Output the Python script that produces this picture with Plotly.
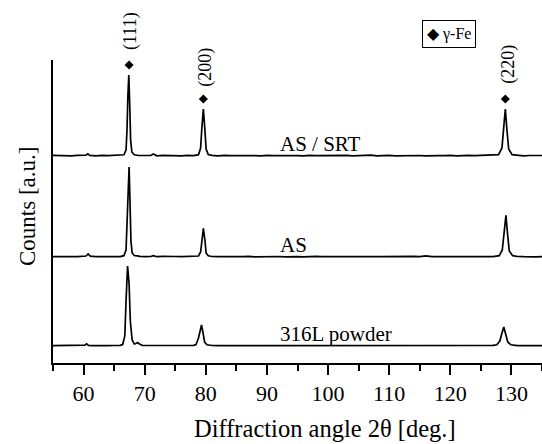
import plotly.graph_objects as go

# ---- data (intensities in a.u. above each pattern's baseline) ----
x_srt = [55, 56, 57, 58, 59, 60, 60.4, 60.7, 61.0, 62, 63, 64, 65, 66, 66.6, 66.95, 67.1, 67.25, 67.4, 67.55, 67.7, 67.9, 68.3, 69, 70, 71.0, 71.4, 71.8, 72, 73, 74, 75, 76, 77, 78, 78.8, 79.15, 79.35, 79.6, 79.85, 80.05, 80.4, 81, 82, 83, 84, 85, 86, 87, 88, 89, 90, 91, 92, 93, 94, 95, 96, 97, 98, 99, 100, 101, 102, 103, 104, 105, 106, 107, 108, 109, 110, 111, 112, 113, 114, 115, 116, 117, 118, 119, 120, 121, 122, 123, 124, 125, 126, 127, 127.9, 128.45, 128.75, 129.0, 129.25, 129.55, 130.1, 131, 132, 133, 134, 135]
y_srt = [0.6, 0.2, 0.5, 0.1, 0.6, 0.3, 0.8, 2.2, 0.6, 0.2, 0.7, 0.3, 0.5, 0.4, 1.2, 6, 25, 60, 81, 52, 16, 4, 1.2, 0.5, 0.3, 0.6, 2.0, 0.5, 0.2, 0.6, 0.3, 0.5, 0.2, 0.6, 0.4, 1.3, 8, 28, 47, 26, 7, 1.5, 0.6, 0.2, 0.7, 0.3, 0.5, 0.1, 0.6, 0.4, 0.2, 0.7, 0.3, 0.5, 0.2, 0.8, 0.4, 0.1, 0.6, 0.3, 0.5, 0.2, 0.7, 0.4, 0.6, 0.1, 0.5, 0.3, 0.8, 0.2, 0.5, 0.6, 0.2, 0.4, 0.7, 0.3, 0.5, 0.2, 0.6, 0.4, 0.3, 0.7, 0.2, 0.5, 0.6, 0.3, 0.5, 0.4, 0.7, 1.4, 8, 28, 47, 27, 7, 1.4, 0.6, 0.2, 0.5, 0.3, 0.5]

x_as = [55, 56, 57, 58, 59, 60, 60.4, 60.75, 61.1, 62, 63, 64, 65, 66, 66.6, 66.95, 67.1, 67.3, 67.45, 67.6, 67.75, 67.95, 68.3, 68.8, 69.2, 70, 71.0, 71.4, 71.8, 72, 73, 74, 75, 76, 77, 78, 78.8, 79.15, 79.4, 79.6, 79.85, 80.05, 80.4, 81, 82, 83, 84, 85, 86, 87, 88, 89, 90, 91, 92, 93, 94, 95, 96, 97, 98, 99, 100, 101, 102, 103, 104, 105, 106, 107, 108, 109, 110, 111, 112, 113, 114, 115, 116, 117, 118, 119, 120, 121, 122, 123, 124, 125, 126, 127, 128.0, 128.5, 128.8, 129.1, 129.35, 129.65, 130.2, 131, 132, 133, 134, 135]
y_as = [0.4, 0.6, 0.2, 0.5, 0.3, 0.6, 1.0, 3.0, 0.8, 0.3, 0.6, 0.2, 0.5, 0.4, 1.3, 7, 30, 72, 90, 55, 16, 4, 1.5, 1.2, 0.6, 0.3, 0.5, 1.4, 0.4, 0.3, 0.6, 0.2, 0.5, 0.3, 0.6, 0.2, 1.0, 5, 20, 28.7, 17, 4, 1.2, 0.5, 0.3, 0.6, 0.2, 0.5, 0.3, 0.7, 0.2, 0.4, 0.6, 0.3, 0.5, 0.2, 0.6, 0.4, 0.2, 0.5, 0.7, 0.3, 0.5, 0.2, 0.6, 0.4, 0.3, 0.5, 0.2, 0.7, 0.4, 0.3, 0.5, 0.6, 0.2, 0.4, 0.7, 0.3, 1.2, 0.4, 0.5, 0.3, 0.6, 0.2, 0.5, 0.4, 0.3, 0.6, 0.5, 0.4, 1.3, 7, 27, 41.7, 24, 6, 1.3, 0.5, 0.3, 0.6, 0.2, 0.4]

x_pow = [55, 56, 57, 58, 59, 60, 60.2, 60.5, 60.8, 61.5, 62, 63, 64, 65, 66, 66.4, 66.75, 66.95, 67.2, 67.45, 67.65, 67.95, 68.3, 68.55, 68.85, 69.15, 69.6, 70, 71, 72, 73, 74, 75, 76, 77, 78, 78.4, 78.8, 79.05, 79.3, 79.55, 79.8, 80.2, 81, 82, 83, 84, 85, 86, 87, 88, 89, 90, 91, 92, 93, 94, 95, 96, 97, 98, 99, 100, 101, 102, 103, 104, 105, 106, 107, 108, 109, 110, 111, 112, 113, 114, 115, 116, 117, 118, 119, 120, 121, 122, 123, 124, 125, 126, 127, 127.6, 128.1, 128.45, 128.75, 129.05, 129.4, 129.9, 130.5, 131, 132, 133, 134, 135]
y_pow = [0.3, 0.3, 0.4, 0.3, 0.4, 0.5, 0.8, 2.2, 0.7, 0.4, 0.3, 0.4, 0.3, 0.5, 0.6, 1.5, 10, 45, 80, 62, 25, 6, 2, 2.5, 3.5, 2, 0.7, 0.5, 0.4, 0.4, 0.3, 0.4, 0.4, 0.3, 0.5, 0.6, 1.5, 8, 16, 21, 13, 4, 1.2, 0.5, 0.4, 0.3, 0.4, 0.3, 0.4, 0.3, 0.4, 0.3, 0.4, 0.4, 0.3, 0.4, 0.3, 0.4, 0.3, 0.4, 0.3, 0.4, 0.4, 0.3, 0.4, 0.3, 0.4, 0.4, 0.3, 0.4, 0.3, 0.4, 0.3, 0.4, 0.4, 0.3, 0.4, 0.3, 0.4, 0.3, 0.4, 0.4, 0.3, 0.4, 0.3, 0.4, 0.3, 0.4, 0.5, 0.6, 1.2, 5, 13, 19, 12, 4, 1.2, 0.6, 0.4, 0.3, 0.4, 0.3, 0.4]

series_names = ["AS / SRT", "AS", "316L powder"]
series_offsets = [207, 106, 17]          # vertical stacking offsets (a.u.)
label_x = [91.8, 91.8, 91.8]             # where each sample label starts (deg)

peak_labels = ["(111)", "(200)", "(220)"]
peak_pos = [67.45, 79.6, 129.0]
peak_marker_y = [298, 264, 264]
peak_label_x = [67.6, 80.0, 129.4]
peak_label_y = [332, 296, 299]

legend_text = "◆ γ-Fe"
legend_x, legend_y = 119.8, 329.5

x_title = "Diffraction angle 2θ [deg.]"
y_title = "Counts [a.u.]"

x_ticks = [60, 70, 80, 90, 100, 110, 120, 130]
x_range = [55, 135]
y_range = [0, 303]

FONT = "Liberation Serif"

fig = go.Figure()
for xs, ys, off in zip([x_srt, x_as, x_pow], [y_srt, y_as, y_pow], series_offsets):
    fig.add_trace(go.Scatter(x=xs, y=[v + off for v in ys], mode="lines",
                             line=dict(color="black", width=1.7), showlegend=False,
                             hoverinfo="skip"))

fig.add_trace(go.Scatter(x=peak_pos, y=peak_marker_y, mode="markers",
                         marker=dict(symbol="diamond", size=7, color="black"),
                         showlegend=False, cliponaxis=False, hoverinfo="skip"))

for name, off, lx in zip(series_names, series_offsets, label_x):
    fig.add_annotation(x=lx, y=off + 12, xref="x", yref="y", text=name,
                       showarrow=False, xanchor="left", yanchor="middle",
                       font=dict(family=FONT, size=21, color="black"))

for t, x, y in zip(peak_labels, peak_label_x, peak_label_y):
    fig.add_annotation(x=x, y=y / y_range[1], xref="x", yref="paper", text=t,
                       textangle=-90, showarrow=False, xanchor="center",
                       yanchor="middle", font=dict(family=FONT, size=18, color="black"))

fig.add_annotation(x=legend_x, y=legend_y / y_range[1], xref="x", yref="paper",
                   text=legend_text, showarrow=False, xanchor="center",
                   yanchor="middle", bordercolor="black", borderwidth=1,
                   borderpad=4, bgcolor="white",
                   font=dict(family=FONT, size=16, color="black"))

# axis titles (placed as in the original figure)
fig.add_annotation(x=0.557, y=-0.216, xref="paper", yref="paper", text=x_title,
                   showarrow=False, xanchor="center", yanchor="middle",
                   font=dict(family=FONT, size=24.5, color="black"))
fig.add_annotation(x=-0.051, y=0.515, xref="paper", yref="paper", text=y_title,
                   textangle=-90, showarrow=False, xanchor="center", yanchor="middle",
                   font=dict(family=FONT, size=23, color="black"))

fig.update_layout(
    width=542, height=444,
    margin=dict(l=53, r=0, t=60, b=81),
    paper_bgcolor="white", plot_bgcolor="white",
    font=dict(family=FONT, size=22, color="black"),
    xaxis=dict(range=x_range, tickvals=x_ticks, ticks="outside", ticklen=10,
               tickwidth=1.5, tickcolor="black", showline=True, linewidth=1.5,
               linecolor="black", showgrid=False, zeroline=False,
               minor=dict(dtick=5, tick0=55, ticks="outside", ticklen=6,
                          tickwidth=1.5, tickcolor="black", showgrid=False),
               tickfont=dict(family=FONT, size=22)),
    yaxis=dict(range=y_range, showticklabels=False, ticks="", showline=True,
               linewidth=1.5, linecolor="black", showgrid=False, zeroline=False),
)

fig.write_html("out.html")
